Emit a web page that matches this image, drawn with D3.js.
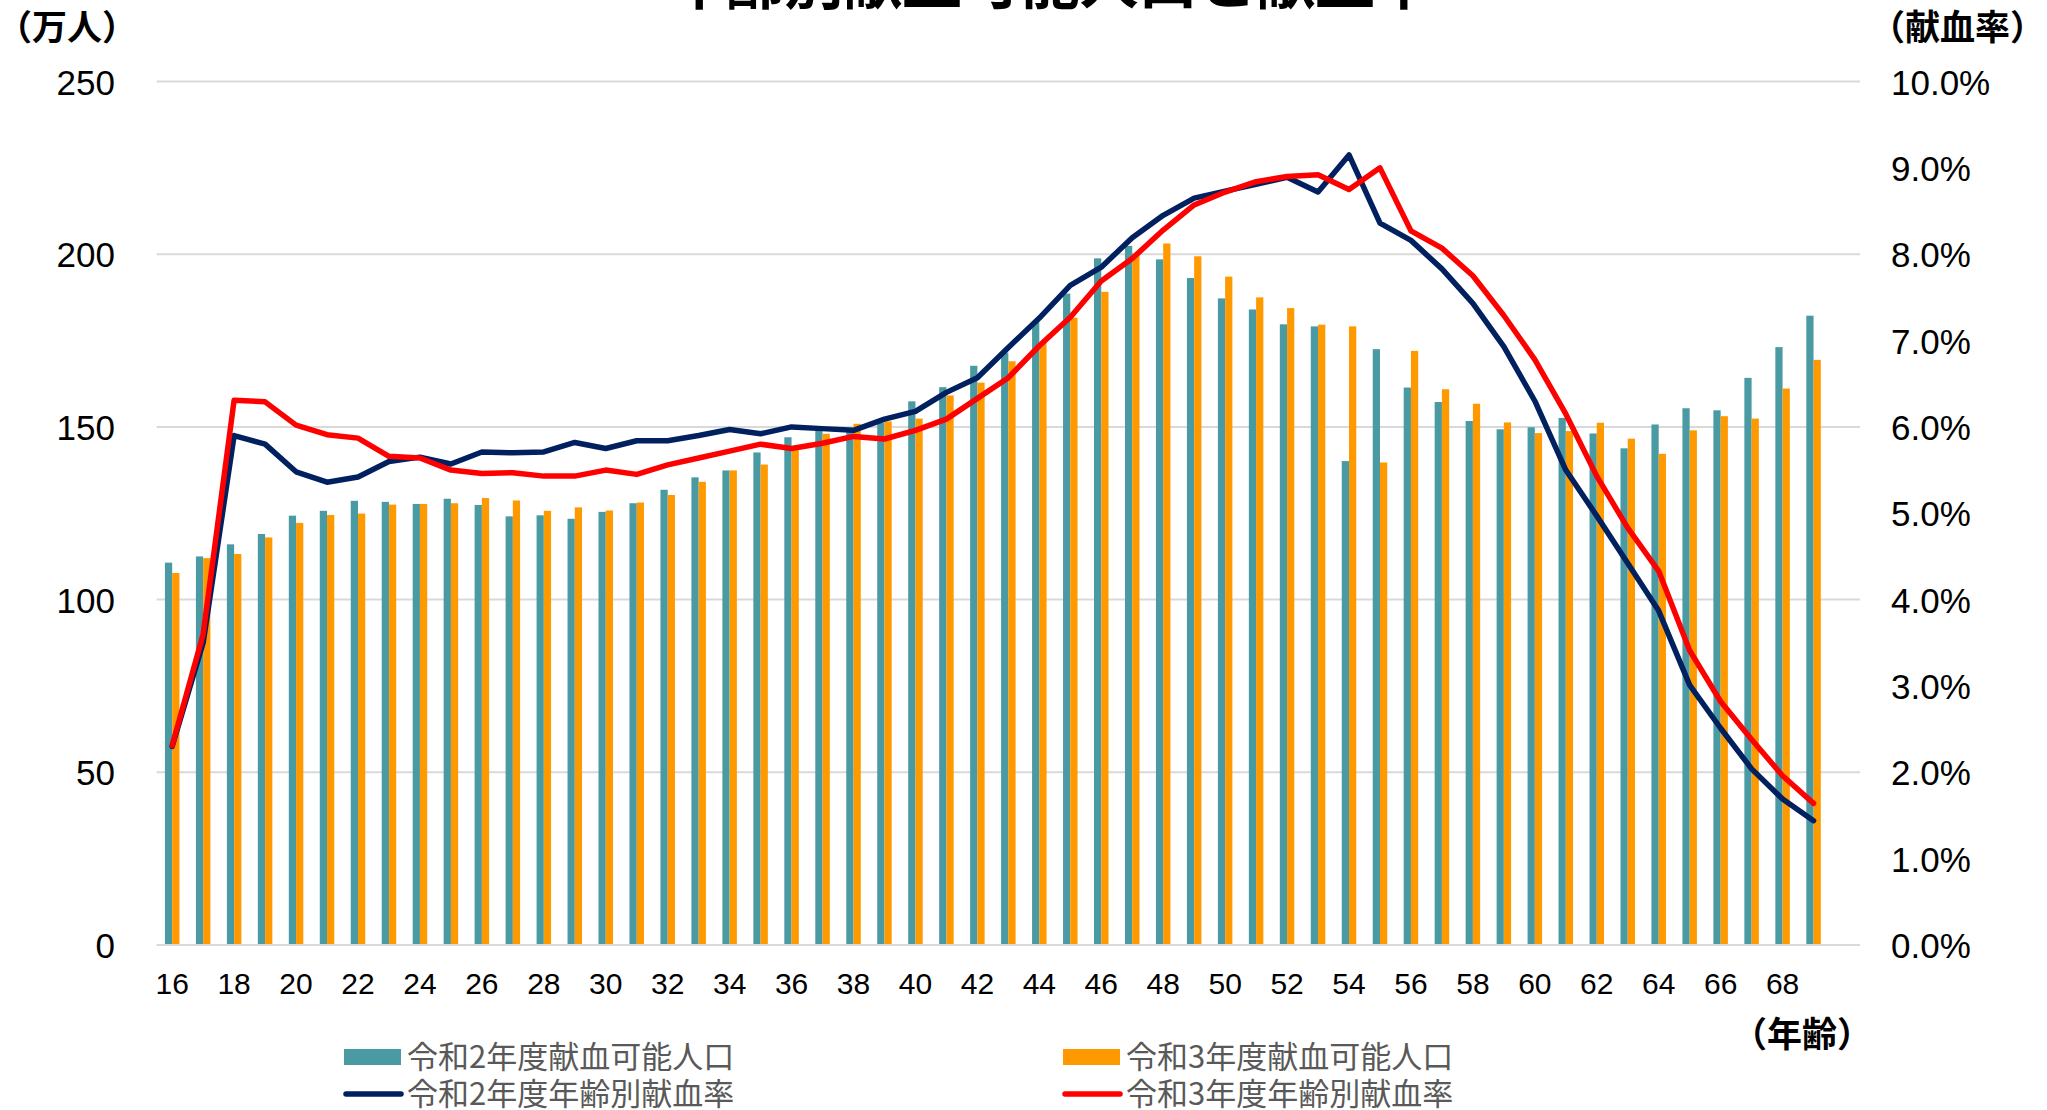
<!DOCTYPE html>
<html>
<head>
<meta charset="utf-8">
<script src="https://cdnjs.cloudflare.com/ajax/libs/d3/7.8.5/d3.min.js"></script>
<style>
  body { margin: 0; background: #fff; }
  svg { display: block; }
</style>
</head>
<body>
<div id="chart"></div>
<script>
// age categories (16 - 69)
var ages = [16, 17, 18, 19, 20, 21, 22, 23, 24, 25, 26, 27, 28, 29, 30, 31, 32, 33, 34, 35,
    36, 37, 38, 39, 40, 41, 42, 43, 44, 45, 46, 47, 48, 49, 50, 51, 52, 53, 54, 55,
    56, 57, 58, 59, 60, 61, 62, 63, 64, 65, 66, 67, 68, 69];

var tickAges = [16, 18, 20, 22, 24, 26, 28, 30, 32, 34, 36, 38, 40, 42, 44, 46, 48, 50,
    52, 54, 56, 58, 60, 62, 64, 66, 68];

// 献血可能人口 (万人)
var popR2 = [110.7, 112.5, 116.0, 119.0, 124.3, 125.7, 128.6, 128.3, 127.7, 129.2,
    127.4, 124.1, 124.4, 123.4, 125.4, 127.9, 131.8, 135.4, 137.4, 142.6,
    147.0, 149.0, 149.0, 151.2, 157.4, 161.5, 167.7, 171.5, 180.4, 188.6,
    198.8, 202.4, 198.5, 193.1, 187.2, 184.0, 179.7, 179.1, 140.1, 172.5,
    161.4, 157.2, 151.7, 149.3, 149.9, 152.6, 148.1, 143.8, 150.7, 155.4,
    154.8, 164.2, 173.1, 182.2];

var popR3 = [107.7, 112.0, 113.2, 118.0, 122.2, 124.5, 124.9, 127.5, 127.7, 127.9,
    129.4, 128.7, 125.7, 126.7, 125.8, 128.1, 130.3, 134.1, 137.4, 139.1,
    143.5, 148.0, 150.9, 151.6, 152.4, 159.1, 162.8, 169.0, 174.5, 181.6,
    189.1, 200.3, 203.1, 199.4, 193.5, 187.5, 184.4, 179.6, 179.1, 139.7,
    172.0, 160.9, 156.7, 151.3, 148.2, 148.8, 151.2, 146.6, 142.2, 149.0,
    153.1, 152.4, 161.1, 169.4];

// 年齢別献血率 (%)
var rateR2 = [2.30, 3.50, 5.90, 5.80, 5.48, 5.36, 5.42, 5.60, 5.65, 5.57,
    5.71, 5.70, 5.71, 5.82, 5.75, 5.84, 5.84, 5.90, 5.97, 5.92,
    6.00, 5.98, 5.96, 6.09, 6.18, 6.40, 6.57, 6.92, 7.26, 7.64,
    7.85, 8.19, 8.45, 8.65, 8.73, 8.81, 8.89, 8.72, 9.15, 8.36,
    8.16, 7.83, 7.43, 6.93, 6.30, 5.50, 4.97, 4.42, 3.87, 3.01,
    2.51, 2.04, 1.69, 1.44];

var rateR3 = [2.31, 3.60, 6.31, 6.29, 6.02, 5.91, 5.87, 5.66, 5.64, 5.50,
    5.46, 5.47, 5.43, 5.43, 5.50, 5.45, 5.56, 5.64, 5.72, 5.80,
    5.75, 5.81, 5.89, 5.86, 5.96, 6.09, 6.33, 6.57, 6.94, 7.27,
    7.69, 7.95, 8.28, 8.57, 8.72, 8.84, 8.90, 8.92, 8.75, 9.00,
    8.27, 8.07, 7.75, 7.29, 6.78, 6.15, 5.43, 4.83, 4.33, 3.41,
    2.82, 2.38, 1.96, 1.64];

var leftTicks = [0, 50, 100, 150, 200, 250];
var rightTicks = [0, 1, 2, 3, 4, 5, 6, 7, 8, 9, 10];

var width = 2047, height = 1110;
var plot = { left: 156.7, right: 1860, top: 81.5, bottom: 945 };

var svg = d3.select("#chart")
    .append("svg")
    .attr("width", width)
    .attr("height", height);

// one empty slot after 69, like the original category axis
var x = d3.scaleBand()
    .domain(ages.concat(["pad"]))
    .range([plot.left, plot.right])
    .paddingInner(0.532)
    .paddingOuter(0.266);

var x1 = d3.scaleBand()
    .domain(["r2", "r3"])
    .range([0, x.bandwidth()]);

var y = d3.scaleLinear()
    .domain([0, 250])
    .range([plot.bottom, plot.top]);

var yRate = d3.scaleLinear()
    .domain([0, 10])
    .range([plot.bottom, plot.top]);

var font = "'Liberation Sans', Arial, sans-serif";
var jpFont = "'Noto Sans CJK JP', sans-serif";

// title (partly off the top edge)
svg.append("text")
    .attr("x", 1050)
    .attr("y", 4)
    .attr("text-anchor", "middle")
    .style("font-family", jpFont)
    .style("font-weight", "bold")
    .style("font-size", "59px")
    .attr("fill", "#000")
    .text("年齢別献血可能人口と献血率");

// grid lines
svg.append("g")
    .selectAll("line")
    .data(leftTicks)
    .enter()
    .append("line")
    .attr("x1", plot.left)
    .attr("x2", plot.right)
    .attr("y1", function (d) { return y(d); })
    .attr("y2", function (d) { return y(d); })
    .attr("stroke", "#d9d9d9")
    .attr("stroke-width", 2);

// left axis
var yAxis = d3.axisLeft(y)
    .tickValues(leftTicks)
    .tickSize(0)
    .tickPadding(0)
    .tickFormat(d3.format("d"));

var gLeft = svg.append("g")
    .attr("transform", "translate(115,0)")
    .call(yAxis);
gLeft.select(".domain").remove();
gLeft.selectAll("text")
    .attr("dy", "12.5")
    .style("font-family", font)
    .style("font-size", "35px")
    .attr("fill", "#000");

// right axis
var rAxis = d3.axisRight(yRate)
    .tickValues(rightTicks)
    .tickSize(0)
    .tickPadding(0)
    .tickFormat(function (d) { return d3.format(".1f")(d) + "%"; });

var gRight = svg.append("g")
    .attr("transform", "translate(1891,0)")
    .call(rAxis);
gRight.select(".domain").remove();
gRight.selectAll("text")
    .attr("dy", "12.5")
    .style("font-family", font)
    .style("font-size", "35px")
    .attr("fill", "#000");

// bottom axis
var xAxis = d3.axisBottom(x)
    .tickValues(tickAges)
    .tickSize(0)
    .tickPadding(0);

var gBottom = svg.append("g")
    .attr("transform", "translate(0," + plot.bottom + ")")
    .call(xAxis);
gBottom.select(".domain").remove();
gBottom.selectAll("text")
    .attr("dy", "0")
    .attr("y", 49)
    .style("font-family", font)
    .style("font-size", "30px")
    .attr("fill", "#000");

// unit labels
function unitLabel(txt, px, py) {
    svg.append("text")
        .attr("x", px)
        .attr("y", py)
        .style("font-family", jpFont)
        .style("font-weight", "bold")
        .style("font-size", "35px")
        .attr("fill", "#000")
        .text(txt);
}
unitLabel("（万人）", -3, 40);
unitLabel("（献血率）", 1870, 40);
unitLabel("（年齢）", 1732, 1047);

// bars
var rows = ages.map(function (a, i) {
    return { age: a, r2: popR2[i], r3: popR3[i], rate2: rateR2[i], rate3: rateR3[i] };
});

var barColor = { r2: "#4a9aa3", r3: "#ff9900" };

var groups = svg.append("g")
    .selectAll("g")
    .data(rows)
    .enter()
    .append("g")
    .attr("transform", function (d) { return "translate(" + x(d.age) + ",0)"; });

groups.selectAll("rect")
    .data(function (d) { return [{ key: "r2", v: d.r2 }, { key: "r3", v: d.r3 }]; })
    .enter()
    .append("rect")
    .attr("x", function (d) { return x1(d.key); })
    .attr("width", x1.bandwidth())
    .attr("y", function (d) { return y(d.v); })
    .attr("height", function (d) { return plot.bottom - y(d.v); })
    .attr("fill", function (d) { return barColor[d.key]; });

// axis base line
svg.append("line")
    .attr("x1", plot.left)
    .attr("x2", plot.right)
    .attr("y1", plot.bottom)
    .attr("y2", plot.bottom)
    .attr("stroke", "#d9d9d9")
    .attr("stroke-width", 2);

// rate lines
var lineR2 = d3.line()
    .x(function (d) { return x(d.age) + x.bandwidth() / 2; })
    .y(function (d) { return yRate(d.rate2); });

var lineR3 = d3.line()
    .x(function (d) { return x(d.age) + x.bandwidth() / 2; })
    .y(function (d) { return yRate(d.rate3); });

svg.append("path")
    .datum(rows)
    .attr("fill", "none")
    .attr("stroke", "#002060")
    .attr("stroke-width", 5.5)
    .attr("stroke-linejoin", "round")
    .attr("stroke-linecap", "round")
    .attr("d", lineR2);

svg.append("path")
    .datum(rows)
    .attr("fill", "none")
    .attr("stroke", "#ff0000")
    .attr("stroke-width", 5.5)
    .attr("stroke-linejoin", "round")
    .attr("stroke-linecap", "round")
    .attr("d", lineR3);

// legend
var legend = [
    { label: "令和2年度献血可能人口", type: "rect", color: "#4a9aa3", x: 344, y: 1057 },
    { label: "令和3年度献血可能人口", type: "rect", color: "#ff9900", x: 1063, y: 1057 },
    { label: "令和2年度年齢別献血率", type: "line", color: "#002060", x: 344, y: 1094 },
    { label: "令和3年度年齢別献血率", type: "line", color: "#ff0000", x: 1063, y: 1094 }
];

var lg = svg.append("g")
    .selectAll("g")
    .data(legend)
    .enter()
    .append("g")
    .attr("transform", function (d) { return "translate(" + d.x + "," + d.y + ")"; });

lg.filter(function (d) { return d.type === "rect"; })
    .append("rect")
    .attr("x", 0)
    .attr("y", -8)
    .attr("width", 57)
    .attr("height", 16)
    .attr("fill", function (d) { return d.color; });

lg.filter(function (d) { return d.type === "line"; })
    .append("line")
    .attr("x1", 2)
    .attr("x2", 57)
    .attr("y1", 0)
    .attr("y2", 0)
    .attr("stroke", function (d) { return d.color; })
    .attr("stroke-width", 5.5)
    .attr("stroke-linecap", "round");

lg.append("text")
    .attr("x", 63)
    .attr("y", 11)
    .style("font-family", jpFont)
    .style("font-size", "31px")
    .attr("fill", "#595959")
    .text(function (d) { return d.label; });
</script>
</body>
</html>
